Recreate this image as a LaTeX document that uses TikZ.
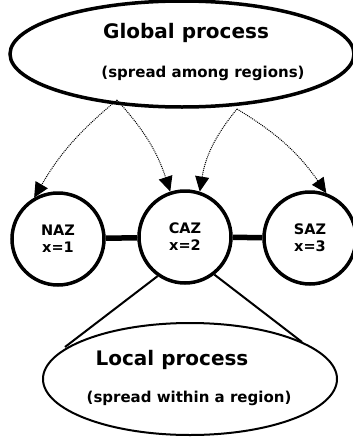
\documentclass[tikz,border=0pt]{standalone}
\usepackage{fontspec}
\setmainfont{DejaVu Sans}
\usetikzlibrary{shapes.geometric,arrows.meta}
\begin{document}
\begin{tikzpicture}[x=1pt,y=-1pt,
  region/.style={circle,draw,line width=3.5pt,minimum size=92pt,inner sep=0pt,align=center,font=\bfseries\fontsize{14.5}{17}\selectfont},
  proc/.style={ellipse,draw,inner sep=0pt},
  link/.style={line width=5.5pt},
  spread/.style={densely dotted,line width=1pt,-{Triangle[length=15pt,width=14pt]}},
  bigtxt/.style={font=\bfseries\fontsize{20}{22}\selectfont},
  smalltxt/.style={font=\bfseries\fontsize{15}{16}\selectfont}]
\useasboundingbox (0,0) rectangle (353,442);
\node[proc,line width=3.5pt,minimum width=344pt,minimum height=106pt] (glob) at (182,54) {};
\node[bigtxt] (gt) at (186,33) {Global process};
\node[smalltxt] (gs) at (203,73) {(spread among regions)};
\node[region] (naz) at (58,239) {NAZ\\x=1};
\node[region] (caz) at (185,237) {CAZ\\x=2};
\node[region] (saz) at (310,238) {SAZ\\x=3};
\draw[link] (naz) -- (caz);
\draw[link] (caz) -- (saz);
\node[proc,line width=2pt,minimum width=294pt,minimum height=112pt] (loc) at (190,379) {};
\node[bigtxt] (lt) at (172,360) {Local process};
\node[smalltxt] (ls) at (189,398) {(spread within a region)};
\coordinate (ll) at (65,347);
\coordinate (lr) at (302,342);
\draw[line width=2pt] (caz.235) -- (ll);
\draw[line width=2pt] (caz.-52) -- (lr);
\coordinate (s1) at (117,100);
\coordinate (s2) at (237,109);
\draw[spread] (s1) to[bend right=10] (naz.120);
\draw[spread] (s1) to[bend left=12] (caz.108);
\draw[spread] (s2) to[bend right=15] (caz.72);
\draw[spread] (s2) to[bend left=12] (saz.70);
\end{tikzpicture}
\end{document}
